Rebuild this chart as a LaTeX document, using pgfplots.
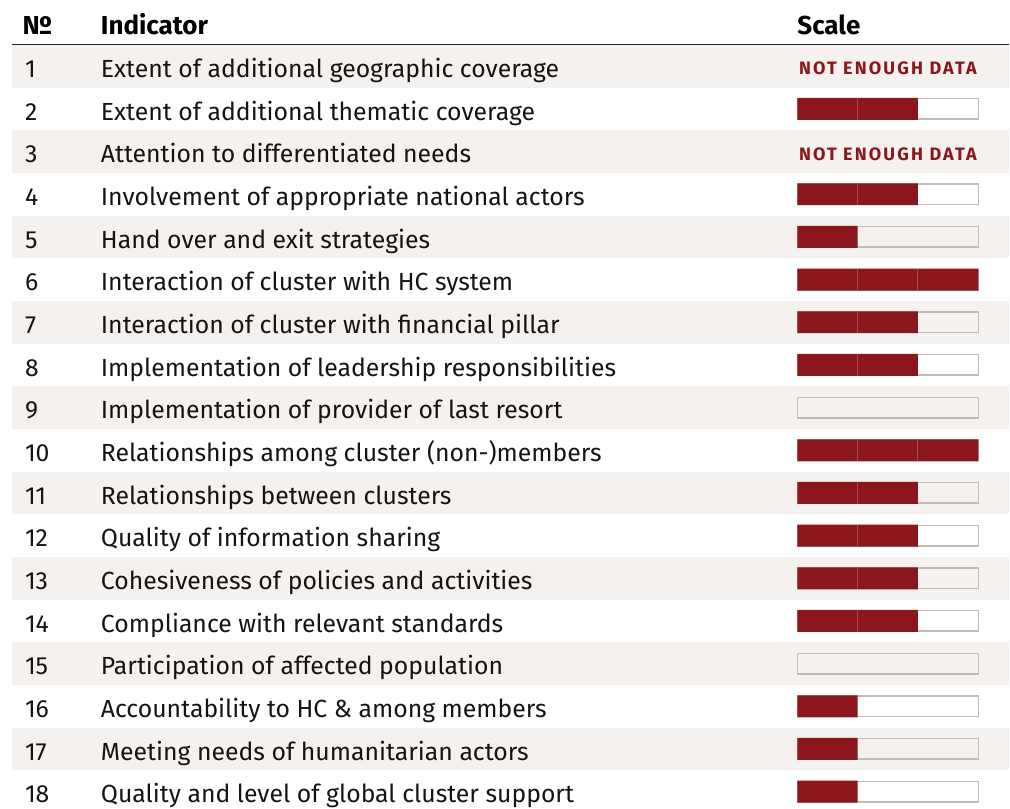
\documentclass[border=0pt]{standalone}
\usepackage{fontspec}
\setmainfont{Fira Sans}
\usepackage{pgfplots}
\pgfplotsset{compat=1.18}
\definecolor{cred}{RGB}{139,22,27}
\definecolor{band}{RGB}{245,241,238}
\definecolor{boxgray}{RGB}{196,188,180}
\definecolor{sepred}{RGB}{172,72,76}
\definecolor{txt}{RGB}{20,20,20}
\newcommand\rowfont{\fontsize{12.4}{14}\selectfont}
\newcommand\headfont{\fontsize{13}{15}\selectfont\bfseries}
\newcommand\nedfont{\fontsize{9}{10}\selectfont\bfseries\addfontfeatures{LetterSpace=12}}
\tikzset{
  lab/.style={anchor=base west, inner sep=0pt, outer sep=0pt, font=\rowfont, text=txt},
  hdr/.style={anchor=base west, inner sep=0pt, outer sep=0pt, font=\headfont, text=black},
  ned/.style={anchor=base, inner sep=0pt, outer sep=0pt, font=\nedfont, text=cred},
}
\begin{document}
\begin{tikzpicture}
\begin{axis}[
  scale only axis, width=505pt, height=403.5pt,
  xmin=-13.227, xmax=3.514, ymin=-0.5527, ymax=18.347, y dir=reverse,
  hide axis, clip=false,
]
\path (axis cs:-13.227,-0.5527) rectangle (axis cs:3.514,18.347);
% shaded bands
\fill[band] (axis cs:-13.028,0.5) rectangle (axis cs:3.514,1.5);
\fill[band] (axis cs:-13.028,2.5) rectangle (axis cs:3.514,3.5);
\fill[band] (axis cs:-13.028,4.5) rectangle (axis cs:3.514,5.5);
\fill[band] (axis cs:-13.028,6.5) rectangle (axis cs:3.514,7.5);
\fill[band] (axis cs:-13.028,8.5) rectangle (axis cs:3.514,9.5);
\fill[band] (axis cs:-13.028,10.5) rectangle (axis cs:3.514,11.5);
\fill[band] (axis cs:-13.028,12.5) rectangle (axis cs:3.514,13.5);
\fill[band] (axis cs:-13.028,14.5) rectangle (axis cs:3.514,15.5);
\fill[band] (axis cs:-13.028,16.5) rectangle (axis cs:3.514,17.5);
\draw[black!85, line width=0.75pt] (axis cs:-13.028,0.494) -- (axis cs:3.514,0.494);
% header
\node[hdr] at (axis cs:-12.85,0.267) {№};
\node[hdr] at (axis cs:-11.553,0.267) {Indicator};
\node[hdr] at (axis cs:0.0,0.267) {Scale};
% outline boxes (scale max 3)
\addplot[xbar, bar shift=0pt, bar width=10.25pt, draw=boxgray, line width=0.75pt, fill=none]
  coordinates {(3,2) (3,4) (3,5) (3,6) (3,7) (3,8) (3,9) (3,10) (3,11) (3,12) (3,13) (3,14) (3,15) (3,16) (3,17) (3,18)};
% scores
\addplot[xbar, bar shift=0pt, bar width=11pt, fill=cred, draw=none]
  coordinates {(2,2) (2,4) (1,5) (3,6) (2,7) (2,8) (3,10) (2,11) (2,12) (2,13) (2,14) (1,16) (1,17) (1,18)};
% segment separators
\addplot[only marks, mark=|, mark size=5.5pt, mark options={draw=sepred, line width=0.5pt}]
  coordinates {(1,2) (1,4) (1,6) (2,6) (1,7) (1,8) (1,10) (2,10) (1,11) (1,12) (1,13) (1,14)};
% not enough data
\node[ned] at (axis cs:1.5,1.204) {NOT ENOUGH DATA};
\node[ned] at (axis cs:1.5,3.204) {NOT ENOUGH DATA};
% rows
\node[lab] at (axis cs:-12.812,1.265) {1};
\node[lab] at (axis cs:-12.812,2.265) {2};
\node[lab] at (axis cs:-12.812,3.265) {3};
\node[lab] at (axis cs:-12.812,4.265) {4};
\node[lab] at (axis cs:-12.812,5.265) {5};
\node[lab] at (axis cs:-12.812,6.265) {6};
\node[lab] at (axis cs:-12.812,7.265) {7};
\node[lab] at (axis cs:-12.812,8.265) {8};
\node[lab] at (axis cs:-12.812,9.265) {9};
\node[lab] at (axis cs:-12.812,10.265) {10};
\node[lab] at (axis cs:-12.812,11.265) {11};
\node[lab] at (axis cs:-12.812,12.265) {12};
\node[lab] at (axis cs:-12.812,13.265) {13};
\node[lab] at (axis cs:-12.812,14.265) {14};
\node[lab] at (axis cs:-12.812,15.265) {15};
\node[lab] at (axis cs:-12.812,16.265) {16};
\node[lab] at (axis cs:-12.812,17.265) {17};
\node[lab] at (axis cs:-12.812,18.265) {18};
\node[lab] at (axis cs:-11.553,1.265) {Extent of additional geographic coverage};
\node[lab] at (axis cs:-11.553,2.265) {Extent of additional thematic coverage};
\node[lab] at (axis cs:-11.553,3.265) {Attention to differentiated needs};
\node[lab] at (axis cs:-11.553,4.265) {Involvement of appropriate national actors};
\node[lab] at (axis cs:-11.553,5.265) {Hand over and exit strategies};
\node[lab] at (axis cs:-11.553,6.265) {Interaction of cluster with HC system};
\node[lab] at (axis cs:-11.553,7.265) {Interaction of cluster with financial pillar};
\node[lab] at (axis cs:-11.553,8.265) {Implementation of leadership responsibilities};
\node[lab] at (axis cs:-11.553,9.265) {Implementation of provider of last resort};
\node[lab] at (axis cs:-11.553,10.265) {Relationships among cluster (non-)members};
\node[lab] at (axis cs:-11.553,11.265) {Relationships between clusters};
\node[lab] at (axis cs:-11.553,12.265) {Quality of information sharing};
\node[lab] at (axis cs:-11.553,13.265) {Cohesiveness of policies and activities};
\node[lab] at (axis cs:-11.553,14.265) {Compliance with relevant standards};
\node[lab] at (axis cs:-11.553,15.265) {Participation of affected population};
\node[lab] at (axis cs:-11.553,16.265) {Accountability to HC \& among members};
\node[lab] at (axis cs:-11.553,17.265) {Meeting needs of humanitarian actors};
\node[lab] at (axis cs:-11.553,18.265) {Quality and level of global cluster support};
\end{axis}
\end{tikzpicture}
\end{document}
